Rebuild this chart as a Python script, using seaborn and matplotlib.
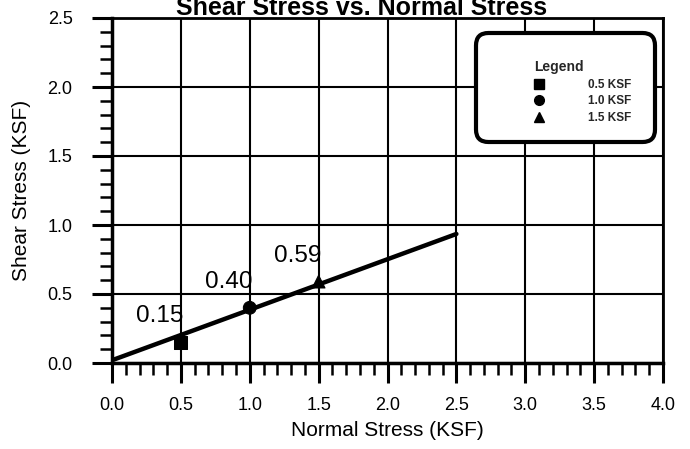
import matplotlib
matplotlib.use("Agg")
import matplotlib.pyplot as plt
from matplotlib.ticker import MultipleLocator
from matplotlib.patches import FancyBboxPatch
from matplotlib.lines import Line2D
import seaborn as sns
import pandas as pd

# Direct shear test results
normal_stress = [0.5, 1.0, 1.5]          # KSF
shear_stress = [0.15, 0.40, 0.59]        # KSF
series_labels = ["0.5 KSF", "1.0 KSF", "1.5 KSF"]
series_markers = ["s", "o", "^"]

# Failure envelope
fit_x = [0.0, 2.5]
fit_y = [0.02, 0.935]

x_ticks = [0.0, 0.5, 1.0, 1.5, 2.0, 2.5, 3.0, 3.5, 4.0]
y_ticks = [0.0, 0.5, 1.0, 1.5, 2.0, 2.5]

df = pd.DataFrame({"Normal": normal_stress, "Shear": shear_stress, "Test": series_labels})

sns.set_theme(style="white")
plt.rcParams["font.family"] = ["Liberation Sans", "DejaVu Sans"]

W, H = 690, 449
fig = plt.figure(figsize=(W / 100, H / 100), dpi=100)
ax = fig.add_axes([112 / W, 1 - 363 / H, (663 - 112) / W, (363 - 18) / H])

# grid and axes
ax.set_xlim(x_ticks[0], x_ticks[-1])
ax.set_ylim(y_ticks[0], y_ticks[-1])
ax.set_xticks(x_ticks)
ax.set_yticks(y_ticks)
ax.set_xticklabels([f"{v:.1f}" for v in x_ticks])
ax.set_yticklabels([f"{v:.1f}" for v in y_ticks])
ax.xaxis.set_minor_locator(MultipleLocator(0.1))
ax.yaxis.set_minor_locator(MultipleLocator(0.1))
ax.grid(which="major", color="black", linewidth=1.5)
ax.set_axisbelow(True)
for side, lw in {"left": 2.5, "bottom": 2.5, "top": 2.0, "right": 2.0}.items():
    ax.spines[side].set_visible(True)
    ax.spines[side].set_color("black")
    ax.spines[side].set_linewidth(lw)

ax.tick_params(axis="both", which="major", direction="out", length=14.4, width=2.2,
               colors="black", labelsize=13, bottom=True, left=True)
ax.tick_params(axis="both", which="minor", direction="out", length=8.6, width=1.8,
               colors="black", bottom=True, left=True)
ax.tick_params(axis="x", which="major", pad=10)
ax.tick_params(axis="y", which="major", pad=14)

# envelope and test points
sns.lineplot(x=fit_x, y=fit_y, color="black", linewidth=3.2, ax=ax, zorder=3)
sns.scatterplot(data=df, x="Normal", y="Shear", style="Test",
                markers=dict(zip(series_labels, series_markers)),
                color="black", s=85, edgecolor="black", legend=False, ax=ax, zorder=4)

for xv, yv in zip(normal_stress, shear_stress):
    ax.annotate(f"{yv:.2f}", (xv, yv), xytext=(-15, 14.4), textcoords="offset points",
                ha="center", va="baseline", fontsize=17.5, color="black", zorder=5)

ax.set_xlabel("Normal Stress (KSF)", fontsize=15, color="black", va="center")
ax.xaxis.set_label_coords(0.5, -(430 - 363) / 345)
ax.set_ylabel("Shear Stress (KSF)", fontsize=15, color="black", va="center")
ax.yaxis.set_label_coords(-(112 - 22) / 551, 0.5)

fig.text(362 / W, 1 - 15 / H, "Shear Stress vs. Normal Stress", ha="center",
         va="baseline", fontsize=18, fontweight="bold", color="black")

# legend panel
box = FancyBboxPatch((476 / W, 1 - 142 / H), 179 / W, 109 / H,
                     boxstyle="round,pad=0,rounding_size=0.018",
                     mutation_aspect=W / H, transform=fig.transFigure,
                     facecolor="white", edgecolor="black", linewidth=3,
                     zorder=6, clip_on=False)
ax.add_patch(box)

handles = [Line2D([], [], linestyle="none", marker=m, color="black", markersize=7)
           for m in series_markers]
leg = ax.legend(handles, series_labels, title="Legend", loc="upper left",
                bbox_to_anchor=(534 / W, 1 - 60 / H), bbox_transform=fig.transFigure,
                frameon=False, borderpad=0, borderaxespad=0,
                prop={"size": 8.5, "weight": "bold"},
                title_fontproperties={"size": 10, "weight": "bold"},
                handlelength=0.8, handletextpad=3.8, labelspacing=0.4)
leg._legend_box.align = "left"
leg.set_zorder(7)

fig.savefig("out.png", dpi=100)
